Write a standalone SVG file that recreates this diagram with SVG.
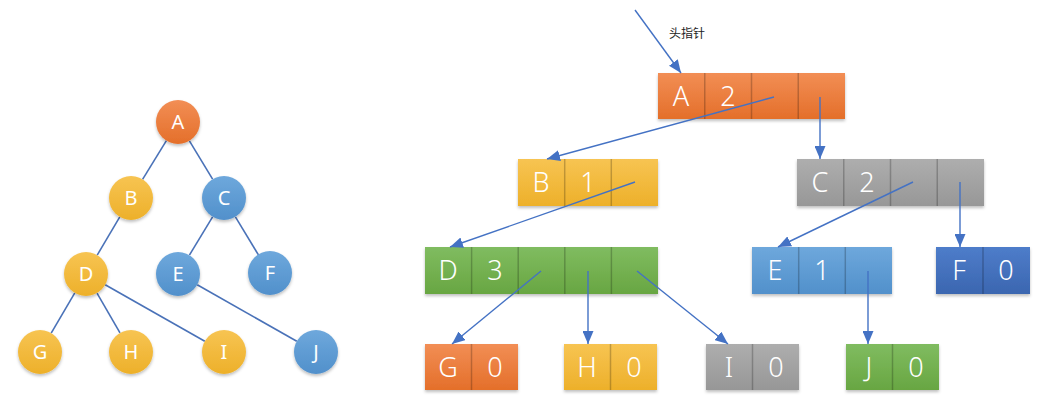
<svg xmlns="http://www.w3.org/2000/svg" width="1044" height="408" viewBox="0 0 1044 408">
<defs>
<linearGradient id="gOr" x1="0" y1="0" x2="0" y2="1"><stop offset="0" stop-color="#F28E55"/><stop offset="1" stop-color="#E46F2A"/></linearGradient>
<linearGradient id="gYe" x1="0" y1="0" x2="0" y2="1"><stop offset="0" stop-color="#F7C452"/><stop offset="1" stop-color="#EDB02A"/></linearGradient>
<linearGradient id="gBl" x1="0" y1="0" x2="0" y2="1"><stop offset="0" stop-color="#6EA8DC"/><stop offset="1" stop-color="#5190CB"/></linearGradient>
<linearGradient id="gGr" x1="0" y1="0" x2="0" y2="1"><stop offset="0" stop-color="#80BC60"/><stop offset="1" stop-color="#68A642"/></linearGradient>
<linearGradient id="gGy" x1="0" y1="0" x2="0" y2="1"><stop offset="0" stop-color="#AEAEAE"/><stop offset="1" stop-color="#979797"/></linearGradient>
<linearGradient id="gDb" x1="0" y1="0" x2="0" y2="1"><stop offset="0" stop-color="#4E7DCA"/><stop offset="1" stop-color="#3B66B0"/></linearGradient>
<filter id="sh" x="-10%" y="-10%" width="120%" height="130%"><feDropShadow dx="0" dy="2" stdDeviation="1.5" flood-color="#000" flood-opacity="0.25"/></filter>
<marker id="arr" markerUnits="userSpaceOnUse" markerWidth="13" markerHeight="11" refX="13" refY="5.5" orient="auto"><path d="M0,0 L13,5.5 L0,11 z" fill="#4472C4"/></marker>
</defs>
<style>
.edge{stroke:#4A72B8;stroke-width:1.6;fill:none}
.conn{stroke:#4472C4;stroke-width:1.4;fill:none;marker-end:url(#arr)}
.ct{font-family:"Noto Sans","Liberation Sans",sans-serif;font-size:20px;fill:#fff;text-anchor:middle}
.bt{font-family:"Noto Sans","Liberation Sans",sans-serif;font-size:27px;font-weight:300;fill:#fff;text-anchor:middle}
.dv{stroke:#000;stroke-opacity:0.22;stroke-width:1.5}
.box{filter:url(#sh)}
.lbl{font-family:"Noto Sans CJK SC","Noto Sans",sans-serif;font-size:12px;fill:#222}
</style>
<g id="tree-edges">
<line class="edge" x1="166.4" y1="140.7" x2="142.6" y2="179.3"/>
<line class="edge" x1="189.4" y1="140.8" x2="212.6" y2="179.2"/>
<line class="edge" x1="119.8" y1="216.9" x2="97.2" y2="255.1"/>
<line class="edge" x1="212.6" y1="216.8" x2="189.4" y2="255.2"/>
<line class="edge" x1="235.4" y1="216.8" x2="258.6" y2="255.2"/>
<line class="edge" x1="74.8" y1="292.9" x2="51.2" y2="333.1"/>
<line class="edge" x1="97" y1="293.1" x2="120" y2="332.9"/>
<line class="edge" x1="105.2" y1="284.8" x2="204.8" y2="341.2"/>
<line class="edge" x1="197.2" y1="284.8" x2="296.8" y2="341.2"/>
</g>
<g id="c-A"><circle cx="178" cy="122" r="22" fill="url(#gOr)" class="box"/><text class="ct" x="178" y="129">A</text></g>
<g id="c-B"><circle cx="131" cy="198" r="22" fill="url(#gYe)" class="box"/><text class="ct" x="131" y="205">B</text></g>
<g id="c-C"><circle cx="224" cy="198" r="22" fill="url(#gBl)" class="box"/><text class="ct" x="224" y="205">C</text></g>
<g id="c-D"><circle cx="86" cy="274" r="22" fill="url(#gYe)" class="box"/><text class="ct" x="86" y="281">D</text></g>
<g id="c-E"><circle cx="178" cy="274" r="22" fill="url(#gBl)" class="box"/><text class="ct" x="178" y="281">E</text></g>
<g id="c-F"><circle cx="270" cy="273" r="22" fill="url(#gBl)" class="box"/><text class="ct" x="270" y="280">F</text></g>
<g id="c-G"><circle cx="40" cy="352" r="22" fill="url(#gYe)" class="box"/><text class="ct" x="40" y="359">G</text></g>
<g id="c-H"><circle cx="131" cy="352" r="22" fill="url(#gYe)" class="box"/><text class="ct" x="131" y="359">H</text></g>
<g id="c-I"><circle cx="224" cy="352" r="22" fill="url(#gYe)" class="box"/><text class="ct" x="224" y="359">I</text></g>
<g id="c-J"><circle cx="316" cy="352" r="22" fill="url(#gBl)" class="box"/><text class="ct" x="316" y="359">J</text></g>

<g id="n-A"><rect class="box" x="658" y="73" width="187" height="46" fill="url(#gOr)"/><line class="dv" x1="704.75" y1="73" x2="704.75" y2="119"/><line class="dv" x1="751.5" y1="73" x2="751.5" y2="119"/><line class="dv" x1="798.25" y1="73" x2="798.25" y2="119"/><text class="bt" x="681" y="106">A</text><text class="bt" x="728" y="106">2</text></g>
<g id="n-B"><rect class="box" x="518" y="159" width="140" height="47" fill="url(#gYe)"/><line class="dv" x1="564.7" y1="159" x2="564.7" y2="206"/><line class="dv" x1="611.3" y1="159" x2="611.3" y2="206"/><text class="bt" x="541" y="192">B</text><text class="bt" x="588" y="192">1</text></g>
<g id="n-C"><rect class="box" x="797" y="159" width="187" height="47" fill="url(#gGy)"/><line class="dv" x1="843.75" y1="159" x2="843.75" y2="206"/><line class="dv" x1="890.5" y1="159" x2="890.5" y2="206"/><line class="dv" x1="937.25" y1="159" x2="937.25" y2="206"/><text class="bt" x="820" y="192">C</text><text class="bt" x="867" y="192">2</text></g>
<g id="n-D"><rect class="box" x="425" y="247" width="233" height="47" fill="url(#gGr)"/><line class="dv" x1="471.6" y1="247" x2="471.6" y2="294"/><line class="dv" x1="518.2" y1="247" x2="518.2" y2="294"/><line class="dv" x1="564.8" y1="247" x2="564.8" y2="294"/><line class="dv" x1="611.4" y1="247" x2="611.4" y2="294"/><text class="bt" x="448" y="280">D</text><text class="bt" x="495" y="280">3</text></g>
<g id="n-E"><rect class="box" x="752" y="247" width="140" height="47" fill="url(#gBl)"/><line class="dv" x1="798.7" y1="247" x2="798.7" y2="294"/><line class="dv" x1="845.3" y1="247" x2="845.3" y2="294"/><text class="bt" x="775" y="280">E</text><text class="bt" x="822" y="280">1</text></g>
<g id="n-F"><rect class="box" x="936" y="247" width="94" height="47" fill="url(#gDb)"/><line class="dv" x1="983" y1="247" x2="983" y2="294"/><text class="bt" x="959" y="280">F</text><text class="bt" x="1006" y="280">0</text></g>
<g id="n-G"><rect class="box" x="425" y="344" width="93" height="46" fill="url(#gOr)"/><line class="dv" x1="471.5" y1="344" x2="471.5" y2="390"/><text class="bt" x="448" y="377">G</text><text class="bt" x="495" y="377">0</text></g>
<g id="n-H"><rect class="box" x="564" y="344" width="93" height="46" fill="url(#gYe)"/><line class="dv" x1="610.5" y1="344" x2="610.5" y2="390"/><text class="bt" x="587" y="377">H</text><text class="bt" x="634" y="377">0</text></g>
<g id="n-I"><rect class="box" x="706" y="344" width="93" height="46" fill="url(#gGy)"/><line class="dv" x1="752.5" y1="344" x2="752.5" y2="390"/><text class="bt" x="729" y="377">I</text><text class="bt" x="776" y="377">0</text></g>
<g id="n-J"><rect class="box" x="846" y="344" width="93" height="46" fill="url(#gGr)"/><line class="dv" x1="892.5" y1="344" x2="892.5" y2="390"/><text class="bt" x="869" y="377">J</text><text class="bt" x="916" y="377">0</text></g>

<g id="label"><text class="lbl" x="669" y="38">头指针</text></g>

<g id="connectors">
<line class="conn" x1="635" y1="10" x2="681" y2="73"/>
<line class="conn" x1="774" y1="97" x2="547" y2="159"/>
<line class="conn" x1="820" y1="97" x2="820" y2="159"/>
<line class="conn" x1="635" y1="182" x2="450" y2="247"/>
<line class="conn" x1="913" y1="182" x2="778" y2="247"/>
<line class="conn" x1="960" y1="182" x2="960" y2="247"/>
<line class="conn" x1="541" y1="271" x2="452" y2="344"/>
<line class="conn" x1="588" y1="271" x2="588" y2="344"/>
<line class="conn" x1="637" y1="271" x2="728" y2="344"/>
<line class="conn" x1="868" y1="271" x2="868" y2="344"/>
</g>
</svg>
